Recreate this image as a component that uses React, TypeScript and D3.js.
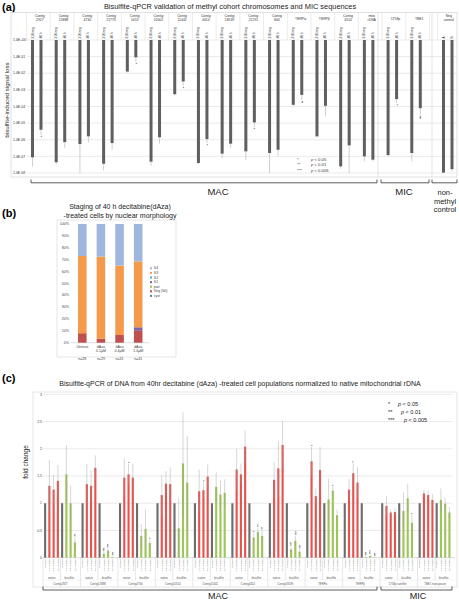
import React from "react";
import * as d3 from "d3";

const FONT = "Liberation Sans, Arial, Helvetica, sans-serif";

// ---------------- Panel (a) data ----------------
const aGroups = [
  "Contig\n2927", "Contig\n15888", "Contig\n4730", "Contig\n21773", "Contig\n5413",
  "Contig\n10502", "Contig\n11442", "Contig\n4414", "Contig\n18539", "Contig\n21291",
  "Contig\n804", "TERPα", "TERPβ", "Contig\n4510", "mito\nrDNA", "1758p", "TBE1", "", "Neg\ncontrol",
];
const aSeries = ["310 neg", "40 h"];
const aCtrlSeries = ["A", "B"];
const aNeg = [8.7e-8, 4.4e-8, 5.5e-7, 3.6e-8, 1.26e-2, 4.8e-8, 5.5e-4, 4.0e-8, 1.45e-7, 2.0e-7, 1.6e-7, 1.26e-4, 1.6e-6, 2.5e-8, 1.0e-7, 1.2e-7, 1.6e-7, null, 1.05e-8];
const aNegErr = [2.5e-8, 3.2e-8, 1.0e-8, 1.4e-8, 1.1e-2, 2.8e-8, 4.5e-4, 3.5e-8, 7.9e-8, 6.3e-8, 1.0e-8, 1.1e-4, 1.4e-6, 1.8e-8, 5.0e-8, 1.0e-7, 5.0e-8, null, 1.0e-8];
const a40 = [4.0e-6, 7.2e-7, 1.6e-6, 6.3e-7, 9.1e-2, 1.4e-6, 3.2e-3, 1.1e-6, 5.8e-7, 1.1e-5, 2.5e-7, 5.0e-4, 1.1e-4, 4.6e-7, 6.3e-8, 2.8e-4, 7.9e-5, null, 1.7e-8];
const a40Err = [2.0e-6, 3.2e-7, 6.9e-7, 2.5e-7, 5.0e-2, 5.8e-7, 1.7e-3, 6.3e-7, 3.2e-7, 5.8e-6, 1.1e-7, 2.5e-4, 2.5e-5, 1.0e-8, 5.0e-8, 1.6e-4, 3.2e-5, null, 1.3e-8];
const a40Stars = [1, 0, 0, 0, 1, 0, 1, 1, 0, 1, 0, 2, 0, 0, 0, 1, 3, 0, 0];
const aTicks = [1, 1e-1, 1e-2, 1e-3, 1e-4, 1e-5, 1e-6, 1e-7, 1e-8];
const aTickLabels = ["1.0E+00", "1.0E-01", "1.0E-02", "1.0E-03", "1.0E-04", "1.0E-05", "1.0E-06", "1.0E-07", "1.0E-08"];
const pLegend = [["*", "p < 0.05"], ["**", "p < 0.01"], ["***", "p < 0.005"]];

// ---------------- Panel (b) data ----------------
const bCats = ["Untreat", "dAza\n0.1μM", "dAza\n0.4μM", "dAza\n1.0μM"];
const bN = ["n=28", "n=29", "n=31", "n=41"];
const bStages = ["cyst", "Veg (S0)", "pair", "S1", "S2", "S3", "S4"];
const bCyst = [0, 0, 0, 0];
const bVeg = [8, 3.5, 6.5, 10];
const bPair = [0, 0, 0, 0];
const bS1 = [0, 0, 0, 3];
const bS2 = [0, 0, 0, 0];
const bS3 = [65, 69, 58.5, 55.5];
const bS4 = [27, 27.5, 35, 31.5];
const bColors = ["#4f81bd", "#c0504d", "#9bbb59", "#8064a2", "#4bacc6", "#f49a4b", "#9fb6de"];
const bTicks = [0, 10, 20, 30, 40, 50, 60, 70, 80, 90, 100];

// ---------------- Panel (c) data ----------------
const cGroups = ["Contig2927", "Contig15888", "Contig4730", "Contig10502", "Contig11442", "Contig4414", "Contig18539", "TERPα", "TERPβ", "1758p satellite", "TBE1 transposon"];
const cSub = ["native", "bisulfite"];
const cBarLabels = ["untreated", "0.1μM dAza", "0.4μM dAza", "1.0μM dAza"];
const cRed = [[1.32, 1.25, 1.41], [1.35, 1.32, 1.65], [1.47, 1.53, 1.47], [1.15, 1.36, 1.35], [1.22, 1.24, 1.49], [1.62, 1.53, 2.04], [1.43, 1.64, 2.07], [1.77, 1.13, 1.61], [1.25, 1.55, 1.38], [0.95, 0.83, 0.84], [1.18, 1.15, 1.06]];
const cRedHi = [[1.8, 1.52, 1.7], [1.72, 1.6, 1.88], [1.82, 1.72, 1.72], [1.52, 1.59, 1.66], [1.62, 1.38, 1.71], [2.0, 1.73, 2.34], [1.76, 2.14, 2.51], [2.03, 1.27, 2.03], [1.45, 1.73, 1.66], [1.13, 0.89, 0.91], [1.24, 1.23, 1.17]];
const cGreen = [[1.53, 1.0, 0.28], [0.07, 0.13, 0.01], [0.4, 0.53, 0.27], [0.54, 1.73, 1.38], [1.3, 1.16, 1.19], [0.37, 0.47, 0.4], [0.15, 0.31, 0.11], [1.07, 1.23, 0.78], [0.01, 0.03, 0.005], [0.86, 1.09, 0.64], [1.06, 0.99, 0.83]];
const cGreenHi = [[2.07, 1.32, 0.37], [0.1, 0.17, 0.02], [0.62, 0.89, 0.33], [1.09, 2.67, 2.24], [1.57, 1.43, 1.44], [0.45, 0.55, 0.5], [0.2, 0.4, 0.15], [1.45, 1.3, 0.88], [0.02, 0.05, 0.01], [1.2, 1.36, 0.78], [1.27, 1.09, 0.93]];
const cRedStars = [[0, 0, 0], [0, 0, 0], [0, 1, 0], [0, 0, 0], [0, 1, 0], [0, 0, 0], [0, 0, 0], [1, 0, 0], [0, 1, 0], [0, 0, 0], [0, 0, 0]];
const cGreenStars = [[0, 0, 2], [3, 3, 3], [0, 0, 1], [0, 0, 0], [0, 0, 0], [1, 2, 2], [3, 3, 3], [0, 1, 0], [3, 3, 3], [0, 0, 1], [0, 0, 0]];
const cTicks = [0, 0.5, 1, 1.5, 2, 2.5, 3];
const cTickLabels = ["0", "0.5", "1", "1.5", "2", "2.5", "3"];

const GRID = "#dcdcdc";

// stars drawn as one rotated string so they stack along the bar
function StarStack({ x, y, n, dir, size = 4.5 }: { x: number; y: number; n: number; dir: number; size?: number }) {
  const s = "*".repeat(n);
  if (dir < 0) {
    return (
      <text transform={`translate(${x + size * 0.52},${y - 0.3}) rotate(-90)`} fontSize={size} fill="#222" letterSpacing={-0.4}>{s}</text>
    );
  }
  return (
    <text transform={`translate(${x - size * 0.52},${y + 0.3}) rotate(90)`} fontSize={size} fill="#222" letterSpacing={-0.4}>{s}</text>
  );
}

function PanelA() {
  const y = d3.scaleLog().domain([1e-8, 1]).range([173, 40]);
  const main = d3.scaleBand<number>().domain(d3.range(17)).range([26.5, 429.5]);
  const start = (i: number) => (i < 17 ? (main(i) as number) : i === 17 ? 429.5 : 437.5);
  const width = (i: number) => (i < 17 ? main.bandwidth() : i === 17 ? 8 : 19.5);
  const inner = d3.scalePoint<number>().domain([0, 1]).range([6, 14.5]);
  const bw = 3;
  const top = y(1);
  return (
    <g>
      <text x={2} y={11} fontSize={11} fontWeight="bold">(a)</text>
      <text x={230} y={8.5} fontSize={7.4} textAnchor="middle" fill="#222">
        Bisulfite-qPCR validation of methyl cohort chromosomes and MIC sequences
      </text>
      <rect x={11} y={12.5} width={446} height={164.5} fill="#fff" stroke="#d4d4d4" strokeWidth={0.7} />
      {aTicks.map((t, i) => (
        <g key={i}>
          <line x1={27} x2={457} y1={y(t)} y2={y(t)} stroke={GRID} strokeWidth={0.6} />
          <text x={13} y={y(t) + 1.2} fontSize={3.5} fill="#333">{aTickLabels[i]}</text>
        </g>
      ))}
      <text transform={`translate(8.5,${100}) rotate(-90)`} fontSize={6.2} textAnchor="middle" fill="#222">
        bisulfite-induced signal loss
      </text>
      {/* header */}
      {aGroups.map((g, i) => {
        const x0 = start(i);
        const w = width(i);
        const lines = g.split("\n");
        return (
          <g key={i}>
            <line x1={x0} x2={x0} y1={12.5} y2={top} stroke="#d8d8d8" strokeWidth={0.5} />
            {lines.map((l, k) => (
              <text key={k} x={x0 + w / 2 + 1.5} y={(lines.length === 1 ? 20 : 17.2) + k * 4} fontSize={3.4} textAnchor="middle" fill="#333">{l}</text>
            ))}
            {aNeg[i] != null && [0, 1].map((s) => (
              <text key={s} transform={`translate(${x0 + (inner(s) as number) + 1},38.5) rotate(-90)`} fontSize={3.1} fill="#333">
                {i === 18 ? aCtrlSeries[s] : aSeries[s]}
              </text>
            ))}
          </g>
        );
      })}
      {/* full-height separators */}
      <line x1={378} x2={378} y1={12.5} y2={177} stroke="#d0d0d0" strokeWidth={0.6} />
      <line x1={432} x2={432} y1={12.5} y2={177} stroke="#d0d0d0" strokeWidth={0.6} />
      {/* bars */}
      {aGroups.map((g, i) => {
        const x0 = start(i);
        const vals = [aNeg[i], a40[i]];
        const errs = [aNegErr[i], a40Err[i]];
        return vals.map((v, s) => {
          if (v == null) return null;
          const cx = x0 + (inner(s) as number);
          const yb = y(v);
          const ye = y(errs[s] as number);
          return (
            <g key={`${i}-${s}`}>
              <line x1={cx} x2={cx} y1={yb} y2={ye} stroke="#a0a0a0" strokeWidth={0.5} />
              <rect x={cx - bw / 2} y={top} width={bw} height={yb - top} fill="#5f5f5f" />
              {s === 1 && a40Stars[i] > 0 && <StarStack x={cx} y={Math.max(ye, yb) + 0.5} n={a40Stars[i]} dir={1} size={4} />}
            </g>
          );
        });
      })}
      {/* legend */}
      {pLegend.map((p, k) => (
        <g key={k}>
          <text x={297} y={160.5 + k * 5.8} fontSize={4.2} fill="#333">{p[0]}</text>
          <text x={311} y={160.5 + k * 5.8} fontSize={4.2} fill="#333"><tspan fontStyle="italic">p</tspan>{p[1].slice(1)}</text>
        </g>
      ))}
      {/* brackets */}
      <path d="M31,179.5 V182.8 H377 V179.5" fill="none" stroke="#333" strokeWidth={0.8} />
      <path d="M381,179.5 V182.8 H429 V179.5" fill="none" stroke="#333" strokeWidth={0.8} />
      <path d="M432,179.5 V182.8 H457 V179.5" fill="none" stroke="#333" strokeWidth={0.8} />
      <text x={218} y={195} fontSize={9.5} textAnchor="middle" fill="#222">MAC</text>
      <text x={404} y={195} fontSize={9.5} textAnchor="middle" fill="#222">MIC</text>
      <text x={445} y={195} fontSize={7.5} textAnchor="middle" fill="#222">non-</text>
      <text x={445} y={203.5} fontSize={7.5} textAnchor="middle" fill="#222">methyl</text>
      <text x={445} y={212} fontSize={7.5} textAnchor="middle" fill="#222">control</text>
    </g>
  );
}

function PanelB() {
  const y = d3.scaleLinear().domain([0, 100]).range([342.7, 224]);
  const x = d3.scaleBand<string>().domain(bCats).range([73, 147.5]).paddingInner(0.54).paddingOuter(0.27);
  const series = [bCyst, bVeg, bPair, bS1, bS2, bS3, bS4];
  const table = bCats.map((c, i) => {
    const row: any = { cat: c };
    bStages.forEach((s, k) => (row[s] = series[k][i]));
    return row;
  });
  const stacked = d3.stack<any>().keys(bStages)(table);
  const legendOrder = [6, 5, 4, 3, 2, 1, 0];
  return (
    <g>
      <text x={2} y={217} fontSize={11} fontWeight="bold">(b)</text>
      <text x={120} y={208.5} fontSize={7} textAnchor="middle" fill="#222">Staging of 40 h decitabine(dAza)</text>
      <text x={120} y={217.5} fontSize={7} textAnchor="middle" fill="#222">-treated cells by nuclear morphology</text>
      <rect x={57} y={220} width={119} height={137} fill="#fff" stroke="#d4d4d4" strokeWidth={0.6} />
      {bTicks.map((t) => (
        <g key={t}>
          <text x={69} y={y(t) + 1.2} fontSize={3.6} textAnchor="end" fill="#444">{t}%</text>
        </g>
      ))}
      <line x1={71} x2={149} y1={y(0)} y2={y(0)} stroke="#bbb" strokeWidth={0.5} />
      {stacked.map((layer, k) => (
        <g key={k} fill={bColors[k]}>
          {layer.map((d, i) =>
            d[1] - d[0] > 0 ? (
              <rect key={i} x={x(bCats[i])} y={y(d[1])} width={x.bandwidth()} height={y(d[0]) - y(d[1])} />
            ) : null
          )}
        </g>
      ))}
      {bCats.map((c, i) => {
        const cx = (x(c) as number) + x.bandwidth() / 2;
        const lines = c.split("\n");
        return (
          <g key={c}>
            {lines.map((l, k) => (
              <text key={k} x={cx} y={348 + k * 4} fontSize={3.6} textAnchor="middle" fill="#444">{l}</text>
            ))}
            <text x={cx} y={360} fontSize={3.6} textAnchor="middle" fill="#444">{bN[i]}</text>
          </g>
        );
      })}
      {legendOrder.map((k, j) => (
        <g key={k}>
          <rect x={150} y={267.3 + j * 4.6} width={2} height={2} fill={bColors[k]} />
          <text x={153.8} y={269.3 + j * 4.6} fontSize={3.5} fill="#444">{bStages[k]}</text>
        </g>
      ))}
    </g>
  );
}

function PanelC() {
  const y = d3.scaleLinear().domain([0, 3]).range([557.7, 394.3]);
  const gx = d3.scaleBand<number>().domain(d3.range(cGroups.length)).range([43, 455]);
  const bx = d3.scaleBand<number>().domain(d3.range(8)).range([0, 34]).paddingInner(0.5).paddingOuter(0.25);
  const bw = bx.bandwidth();
  const y0 = y(0);
  return (
    <g>
      <text x={2} y={382} fontSize={11} fontWeight="bold">(c)</text>
      <text x={240} y={386} fontSize={7} textAnchor="middle" fill="#222">
        Bisulfite-qPCR of DNA from 40hr decitabine (dAza) -treated cell populations normalized to native mitochondrial rDNA
      </text>
      <rect x={33} y={392} width={424} height={195} fill="#fff" stroke="#d4d4d4" strokeWidth={0.6} />
      {cTicks.map((t, i) => (
        <g key={t}>
          {t > 0 && <line x1={43} x2={452} y1={y(t)} y2={y(t)} stroke={GRID} strokeWidth={0.6} />}
          <text x={42} y={y(t) + 1.2} fontSize={3.5} textAnchor="end" fill="#444">{cTickLabels[i]}</text>
        </g>
      ))}
      <text transform={`translate(28,${462}) rotate(-90)`} fontSize={6.5} textAnchor="middle" fill="#222">fold change</text>
      <line x1={43} x2={455} y1={y0} y2={y0} stroke="#bbb" strokeWidth={0.5} />
      {cGroups.map((g, gi) => {
        const x0 = gx(gi) as number;
        const bars: { v: number; hi: number | null; c: string; stars: number }[] = [
          { v: 1, hi: null, c: "#6d6d6d", stars: 0 },
          ...cRed[gi].map((v, k) => ({ v, hi: cRedHi[gi][k], c: "#e4534d", stars: cRedStars[gi][k] })),
          { v: 1, hi: null, c: "#6d6d6d", stars: 0 },
          ...cGreen[gi].map((v, k) => ({ v, hi: cGreenHi[gi][k], c: "#9fc45a", stars: cGreenStars[gi][k] })),
        ];
        return (
          <g key={gi}>
            {bars.map((b, k) => {
              const bx0 = x0 + (bx(k) as number);
              const cx = bx0 + bw / 2;
              const lo = b.hi != null ? Math.max(0, 2 * b.v - b.hi) : null;
              return (
                <g key={k}>
                  <rect x={bx0} y={y(b.v)} width={bw} height={y0 - y(b.v)} fill={b.c} />
                  {b.hi != null && (
                    <line x1={cx} x2={cx} y1={y(b.hi)} y2={y(lo as number)} stroke="#9a9a9a" strokeOpacity={0.75} strokeWidth={0.55} />
                  )}
                  {b.stars > 0 && <StarStack x={cx} y={y(b.hi ?? b.v) - 0.5} n={b.stars} dir={-1} size={4.2} />}
                  <text transform={`translate(${cx + 0.8},${559.5}) rotate(-90)`} fontSize={2.2} textAnchor="end" fill="#555">
                    {cBarLabels[k % 4]}
                  </text>
                </g>
              );
            })}
            {/* table lines */}
            <line x1={x0} x2={x0} y1={y0} y2={587} stroke="#cfcfcf" strokeWidth={0.5} />
            <line x1={x0 + 17.5} x2={x0 + 17.5} y1={y0} y2={580} stroke="#cfcfcf" strokeWidth={0.5} />
            {cSub.map((s, k) => (
              <text key={s} x={x0 + 8.75 + k * 17.5} y={578.5} fontSize={2.8} textAnchor="middle" fill="#555">{s}</text>
            ))}
            <text x={x0 + 17.5} y={584.5} fontSize={2.8} textAnchor="middle" fill="#555">{g}</text>
          </g>
        );
      })}
      <line x1={43} x2={455} y1={580} y2={580} stroke="#e0e0e0" strokeWidth={0.4} />
      {/* legend */}
      {pLegend.map((p, k) => (
        <g key={k}>
          <text x={388} y={405.5 + k * 8} fontSize={5.5} fill="#222">{p[0]}</text>
          <text x={398 + k * 3} y={405.5 + k * 8} fontSize={5.5} fill="#222"><tspan fontStyle="italic">p</tspan>{p[1].slice(1)}</text>
        </g>
      ))}
      {/* brackets */}
      <path d={`M${gx(0)},586.5 V590 H377 V586.5`} fill="none" stroke="#333" strokeWidth={0.8} />
      <path d={`M381,586.5 V590 H452 V586.5`} fill="none" stroke="#333" strokeWidth={0.8} />
      <text x={218} y={598.8} fontSize={9} textAnchor="middle" fill="#222">MAC</text>
      <text x={418} y={598.8} fontSize={9} textAnchor="middle" fill="#222">MIC</text>
    </g>
  );
}

export default function App() {
  return (
    <svg width={459} height={600} viewBox="0 0 459 600" fontFamily={FONT}
      style={{ position: "absolute", left: 0, top: 0, display: "block", background: "#fff" }}>
      <rect width={459} height={600} fill="#fff" />
      <PanelA />
      <PanelB />
      <PanelC />
    </svg>
  );
}
